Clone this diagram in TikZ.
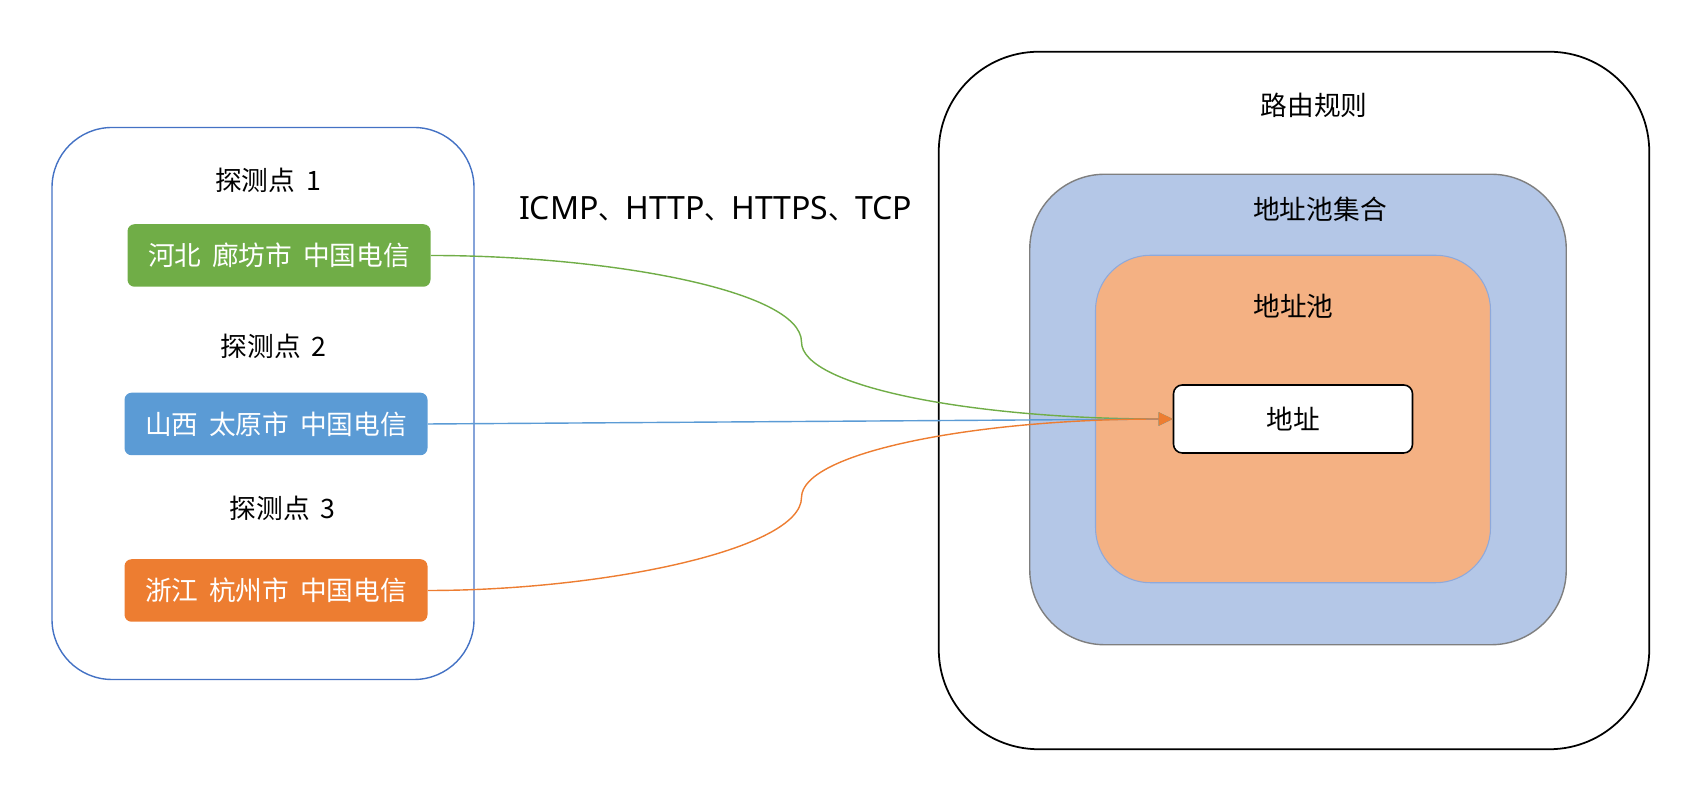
\documentclass[tikz,border=0pt]{standalone}
\usepackage{fontspec}
\setmainfont{Noto Sans CJK SC}[WordSpace=1.8]
\newfontfamily\lat{Noto Sans}[Scale=1.2]
\usepackage{xcolor}
\usepackage{tikz}
\usetikzlibrary{positioning,arrows.meta}

\definecolor{cgreen}{HTML}{70AD47}
\definecolor{cblue}{HTML}{5B9BD5}
\definecolor{corange}{HTML}{ED7D31}
\definecolor{cframe}{HTML}{4472C4}
\definecolor{csetfill}{HTML}{B4C7E7}
\definecolor{csetline}{HTML}{7F7F7F}
\definecolor{cpoolfill}{HTML}{F4B183}
\definecolor{cpoolline}{HTML}{8EA9DB}

\begin{document}
\begin{tikzpicture}[
  every node/.style={font=\fontsize{15.2}{18}\selectfont},
  probe/.style={rounded corners=4pt, minimum width=6.06cm, minimum height=1.25cm, text=white, inner sep=0pt},
  link/.style={line width=0.8pt, -{Triangle[length=8pt,width=7.5pt]}}
]
\useasboundingbox (0,0) rectangle (33.92,16.03);

\node[draw=cframe, line width=0.8pt, rounded corners=1.2cm, minimum width=8.44cm, minimum height=11.04cm] (probes) at (5.26,7.96) {};
\node (lbl1) at (5.36,12.42) {探测点 1};
\node[probe, fill=cgreen] (hebei) at (5.58,10.92) {河北 廊坊市 中国电信};
\node (lbl2) at (5.47,9.11) {探测点 2};
\node[probe, fill=cblue] (shanxi) at (5.52,7.55) {山西 太原市 中国电信};
\node (lbl3) at (5.65,5.86) {探测点 3};
\node[probe, fill=corange] (zhejiang) at (5.52,4.22) {浙江 杭州市 中国电信};

\node (proto) at (14.31,11.85) {{\lat ICMP}、{\lat HTTP}、{\lat HTTPS}、{\lat TCP}};

\node[draw=black, line width=1pt, rounded corners=2cm, minimum width=14.21cm, minimum height=13.95cm] (rule) at (25.88,8.02) {};
\node (rulelbl) at (26.28,13.93) {路由规则};
\node[draw=csetline, line width=0.8pt, fill=csetfill, rounded corners=1.5cm, minimum width=10.73cm, minimum height=9.41cm] (poolset) at (25.96,7.84) {};
\node (setlbl) at (26.40,11.85) {地址池集合};
\node[draw=cpoolline, line width=0.6pt, fill=cpoolfill, rounded corners=1.1cm, minimum width=7.9cm, minimum height=6.55cm] (pool) at (25.86,7.65) {};
\node (poollbl) at (25.87,9.91) {地址池};
\node[draw=black, line width=0.9pt, fill=white, rounded corners=5pt, minimum width=4.78cm, minimum height=1.36cm] (addr) at (25.86,7.65) {地址};

\coordinate (gbend) at (16.03,9.19);
\coordinate (obend) at (16.03,6.08);

\draw[link, cgreen] (hebei.east) .. controls +(3.5,0) and +(0,1.04) .. (gbend) .. controls +(0,-0.9) and +(-3.96,0) .. (addr.west);
\draw[link, cblue] (shanxi.east) -- (addr.west);
\draw[link, corange] (zhejiang.east) .. controls +(3.5,0) and +(0,-1.04) .. (obend) .. controls +(0,0.9) and +(-3.96,0) .. (addr.west);
\end{tikzpicture}
\end{document}
